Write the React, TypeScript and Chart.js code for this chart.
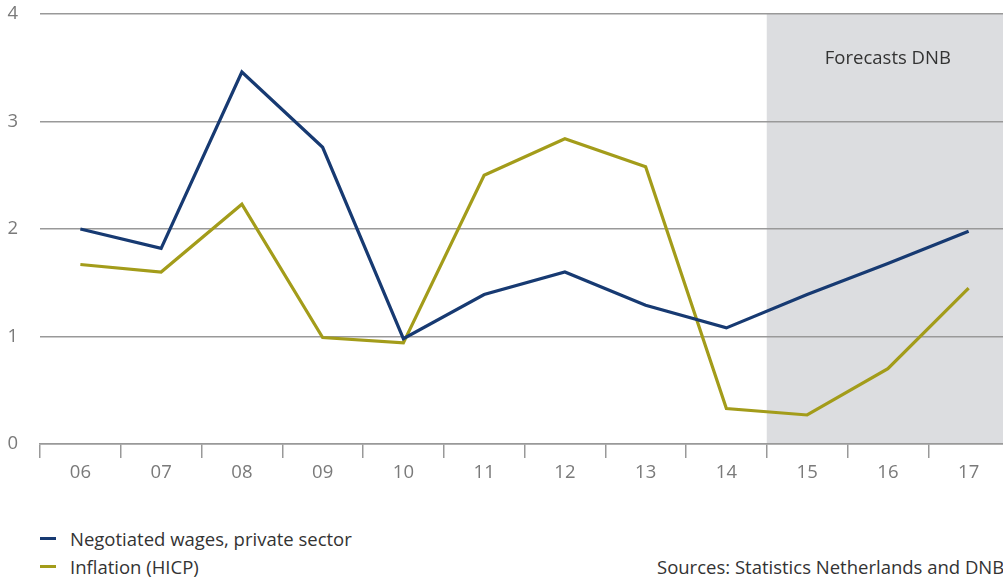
import React, { useEffect, useRef } from "react";
import { Chart, registerables } from "chart.js";

Chart.register(...registerables);

const categories = ["06", "07", "08", "09", "10", "11", "12", "13", "14", "15", "16", "17"];
const wages = [2.0, 1.82, 3.46, 2.76, 0.98, 1.39, 1.6, 1.29, 1.08, 1.39, 1.68, 1.98];
const inflation = [1.67, 1.6, 2.23, 0.99, 0.94, 2.5, 2.84, 2.58, 0.33, 0.27, 0.7, 1.45];
const yTicks = [0, 1, 2, 3, 4];
const forecastStartIndex = 9;
const forecastLabel = "Forecasts DNB";
const seriesNames = ["Negotiated wages, private sector", "Inflation (HICP)"];
const sourceText = "Sources: Statistics Netherlands and DNB";

const BLUE = "#173a72";
const OLIVE = "#a39c1a";
const FONT = "'Open Sans', 'Noto Sans', sans-serif";
const FS = 18.5;

const forecastPlugin = {
  id: "forecastBox",
  beforeDraw(chart: any) {
    const { ctx, scales } = chart;
    const x = scales.x;
    const y = scales.y;
    const left = x.getPixelForValue(forecastStartIndex - 0.5);
    const right = x.right;
    const top = y.getPixelForValue(4);
    const bottom = y.getPixelForValue(0);
    ctx.save();
    ctx.fillStyle = "#dcdde0";
    ctx.fillRect(left, top, right - left, bottom - top);
    ctx.fillStyle = "#333333";
    ctx.font = `${FS}px ${FONT}`;
    ctx.textAlign = "center";
    ctx.textBaseline = "middle";
    ctx.fillText(forecastLabel, (left + right) / 2, y.getPixelForValue(3.58));
    ctx.restore();
  },
};

export default function App() {
  const ref = useRef<HTMLCanvasElement | null>(null);

  useEffect(() => {
    if (!ref.current) return;
    const chart = new Chart(ref.current, {
      type: "line",
      data: {
        labels: categories,
        datasets: [
          {
            label: seriesNames[0],
            data: wages,
            borderColor: BLUE,
            borderWidth: 3.2,
            pointRadius: 0,
            tension: 0,
            fill: false,
          },
          {
            label: seriesNames[1],
            data: inflation,
            borderColor: OLIVE,
            borderWidth: 3.2,
            pointRadius: 0,
            tension: 0,
            fill: false,
          },
        ],
      },
      options: {
        responsive: false,
        animation: false,
        layout: { padding: { top: 14, left: 0, right: 0, bottom: 0 } },
        plugins: {
          legend: { display: false },
          tooltip: { enabled: false },
        },
        scales: {
          x: {
            type: "category",
            offset: true,
            border: { display: true, color: "#999999", width: 1.5 },
            grid: {
              offset: true,
              drawOnChartArea: false,
              drawTicks: true,
              tickLength: 14,
              color: "#999999",
              lineWidth: 1.5,
            },
            ticks: {
              color: "#7a7a7a",
              font: { family: FONT, size: FS },
              padding: 4,
              maxRotation: 0,
              autoSkip: false,
            },
            afterFit(scale: any) {
              scale.height = 56;
              scale.paddingLeft = 0;
              scale.paddingRight = 0;
            },
          },
          y: {
            min: 0,
            max: 4,
            border: { display: false },
            afterBuildTicks(scale: any) {
              scale.ticks = yTicks.map((v) => ({ value: v }));
            },
            grid: {
              drawTicks: false,
              color: "#999999",
              lineWidth: 1.5,
            },
            ticks: {
              color: "#7a7a7a",
              font: { family: FONT, size: FS },
              padding: 22,
            },
            afterFit(scale: any) {
              scale.width = 40;
              scale.paddingTop = 0;
              scale.paddingBottom = 0;
            },
          },
        },
      },
      plugins: [forecastPlugin],
    });
    return () => chart.destroy();
  }, []);

  return (
    <div
      style={{
        position: "fixed",
        left: 0,
        top: 0,
        width: 1003,
        height: 577,
        overflow: "hidden",
        background: "#ffffff",
        fontFamily: FONT,
      }}
    >
      <canvas ref={ref} width={1009} height={500} style={{ display: "block", width: 1009, height: 500 }} />
      {seriesNames.map((name, i) => (
        <div
          key={name}
          style={{
            position: "absolute",
            left: 40,
            top: 538 + i * 28 - 12,
            height: 24,
            display: "flex",
            alignItems: "center",
            fontSize: FS,
            color: "#333333",
            whiteSpace: "nowrap",
          }}
        >
          <span
            style={{
              display: "inline-block",
              width: 16,
              height: 3,
              background: i === 0 ? BLUE : OLIVE,
              marginRight: 14,
            }}
          />
          {name}
        </div>
      ))}
      <div
        style={{
          position: "absolute",
          left: 657,
          top: 566 - 12,
          height: 24,
          display: "flex",
          alignItems: "center",
          fontSize: FS,
          color: "#333333",
          whiteSpace: "nowrap",
        }}
      >
        {sourceText}
      </div>
    </div>
  );
}
